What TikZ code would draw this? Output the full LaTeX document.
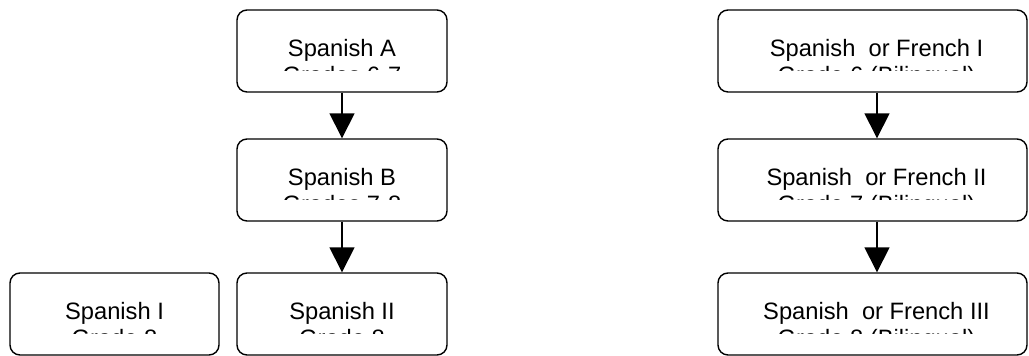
\documentclass[tikz,border=0pt]{standalone}
\usepackage{fontspec}
\setmainfont{Liberation Sans}
\usetikzlibrary{arrows.meta}
\newcommand\coursebox[7]{% name, box cx, top, width(px), text cx, line1, line2
  \node[box, minimum width=#4*0.5pt] (#1) at (#2,#3+41) {};
  \node[lbl] (#1-t) at (#5,#3+46.5) {#6};
  \begin{scope}
    \clip (#2-#4/2+2,#3+50) rectangle (#2+#4/2-2,#3+60.5);
    \node[lbl] (#1-s) at (#5,#3+73.5) {#7};
  \end{scope}}
\begin{document}
\begin{tikzpicture}[x=0.5pt,y=-0.5pt,
  box/.style={draw, line width=0.7pt, rounded corners=5pt, minimum height=41pt, inner sep=0pt},
  lbl/.style={font=\fontsize{11.85}{13.5}\selectfont, anchor=base, inner sep=0pt},
  arr/.style={line width=0.8pt, -{Triangle[width=12.5pt,length=12.5pt]}}]
\useasboundingbox (0,0) rectangle (1029,356);
% left column
\coursebox{a}{342}{10}{210}{342}{Spanish A}{Grades 6-7}
\coursebox{b}{342}{139}{210}{342}{Spanish B}{Grades 7-8}
\coursebox{s2}{342}{273}{210}{342}{Spanish II}{Grade 8}
\coursebox{s1}{114.5}{273}{209}{114.5}{Spanish I}{Grade 8}
% right column
\coursebox{r1}{872.5}{10}{309}{876.5}{Spanish\ \ or French I}{Grade 6 (Bilingual)}
\coursebox{r2}{872.5}{139}{309}{876.5}{Spanish\ \ or French II}{Grade 7 (Bilingual)}
\coursebox{r3}{872.5}{273}{309}{876.5}{Spanish\ \ or French III}{Grade 8 (Bilingual)}
% arrows
\draw[arr] (a) -- (b);
\draw[arr] (b) -- (s2);
\draw[arr] ([xshift=2.25pt]r1.south) -- ([xshift=2.25pt]r2.north);
\draw[arr] ([xshift=2.25pt]r2.south) -- ([xshift=2.25pt]r3.north);
\end{tikzpicture}
\end{document}
